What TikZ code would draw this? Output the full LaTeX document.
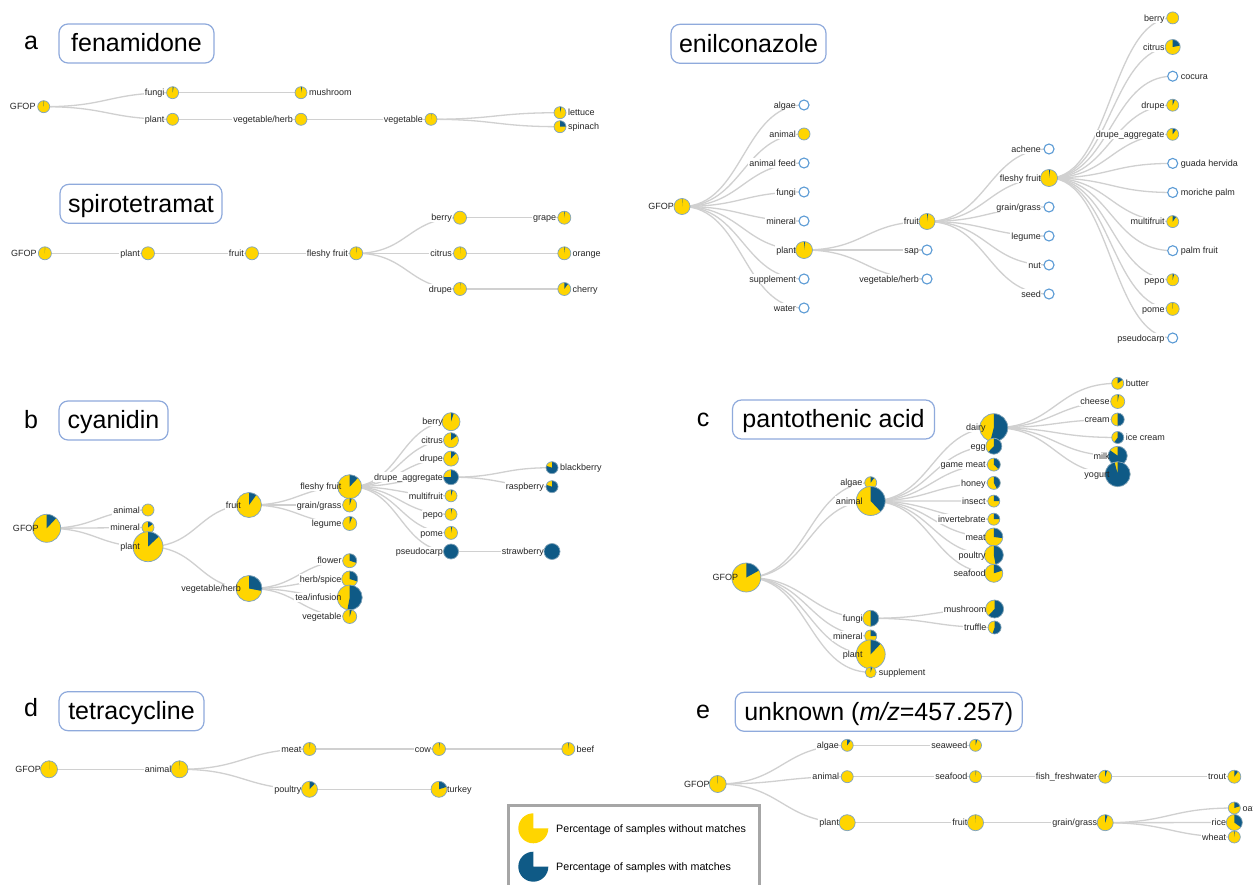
\documentclass[tikz,border=0pt]{standalone}
\usepackage{fontspec}
\setmainfont{Liberation Sans}
\usetikzlibrary{calc}
\pgfdeclarelayer{bg}\pgfdeclarelayer{mid}\pgfdeclarelayer{fg}
\pgfsetlayers{bg,mid,main,fg}
\definecolor{py}{HTML}{FFD500}
\definecolor{pb}{HTML}{0F5A86}
\definecolor{pout}{HTML}{7FA3C0}
\definecolor{eout}{HTML}{5B9BD5}
\definecolor{edgec}{HTML}{D0D0D0}
\definecolor{boxc}{HTML}{8FAADC}
\definecolor{legc}{HTML}{A6A6A6}
\tikzset{
 piest/.style={circle,inner sep=0pt,fill=py},
 pieout/.style={draw=pout,line width=0.7pt},
 epie/.style={circle,inner sep=0pt,minimum size=10pt,fill=white,draw=eout,line width=1.1pt},
 lbl/.style={font=\fontsize{9}{9}\selectfont,inner sep=0pt,text height=6.5pt,text depth=0pt,text=black!85},
 lblbg/.style={lbl,fill=white,inner xsep=0.5pt,inner ysep=1.5pt},
 lnkst/.style={draw=edgec,line width=1.3pt},
 titlebox/.style={draw=boxc,line width=1.2pt,rounded corners=9pt,inner sep=0pt,font=\fontsize{25}{25}\selectfont,text height=16.5pt,text depth=0pt,minimum height=39pt},
 panelletter/.style={font=\fontsize{25}{25}\selectfont,anchor=base,inner sep=0pt},
 legtext/.style={font=\fontsize{10.7}{10.7}\selectfont,anchor=west,inner sep=0pt,text height=7.7pt,text depth=0pt},
}
\newcommand\pielabel[3]{%
 \if#3l\def\lanc{east}\def\lsh{-8pt}\else\def\lanc{west}\def\lsh{8pt}\fi
 \begin{pgfonlayer}{mid}
 \node[lblbg,anchor=\lanc] (#1-bg) at ([xshift=\lsh]#1.center) {\phantom{#2}};
 \end{pgfonlayer}
 \begin{pgfonlayer}{fg}
 \node[lbl,anchor=\lanc] (#1-l) at ([xshift=\lsh]#1.center) {#2};
 \end{pgfonlayer}}
\newcommand\pienode[7]{%
 \node[piest,minimum size={2*#4pt}] (#1) at (#2,#3) {};
 \ifdim#5pt>0pt
  \fill[pb] (#1.center) -- ++(0pt,#4pt) arc[start angle=90,delta angle={-360*#5},radius=#4pt] -- cycle;
 \fi
 \draw[pieout] (#1.center) circle[radius=#4pt];
 \pielabel{#1}{#6}{#7}}
\newcommand\emptypie[5]{\node[epie] (#1) at (#2,#3) {};\pielabel{#1}{#4}{#5}}
\newcommand\lnk[2]{\draw[lnkst] let \p1=(#1.center),\p2=(#2.center) in (\p1) .. controls ({0.5*\x1+0.5*\x2},\y1) and ({0.5*\x1+0.5*\x2},\y2) .. (\p2);}
\begin{document}
\begin{tikzpicture}[x=1pt,y=-1pt]
\useasboundingbox (0,0) rectangle (1253,885);
\begin{pgfonlayer}{bg}\fill[white] (0,0) rectangle (1253,885);\end{pgfonlayer}
% ---------- titles ----------
\node[panelletter] (la) at (31,50) {a};
\node[titlebox,minimum width=155pt] (ta) at (136.5,43.5) {fenamidone};
\node[titlebox,minimum width=162pt] (ts) at (141,203.8) {spirotetramat};
\node[titlebox,minimum width=155pt] (tn) at (748.5,43.8) {enilconazole};
\node[panelletter] (lb) at (31,428) {b};
\node[titlebox,minimum width=109pt] (tb) at (113.5,420.5) {cyanidin};
\node[panelletter] (lc) at (703,426.7) {c};
\node[titlebox,minimum width=202pt] (tc) at (833.5,419.5) {pantothenic acid};
\node[panelletter] (ld) at (31,716.7) {d};
\node[titlebox,minimum width=145pt] (td) at (131.5,711.2) {tetracycline};
\node[panelletter] (le) at (703,718) {e};
\node[titlebox,minimum width=287pt] (te) at (878.7,711.8) {unknown (\textit{m/z}=457.257)};
% ---------- a fenamidone ----------
\pienode{a0}{43.7}{106.7}{6}{0.01}{GFOP}{l}
\pienode{a1}{172.6}{92.7}{6}{0.03}{fungi}{l}
\pienode{a2}{172.6}{119.3}{6}{0}{plant}{l}
\pienode{a3}{301}{92.7}{6}{0.03}{mushroom}{r}
\pienode{a4}{301}{119.3}{6}{0}{vegetable/herb}{l}
\pienode{a5}{431}{119.3}{6}{0.01}{vegetable}{l}
\pienode{a6}{560}{112.7}{6}{0.04}{lettuce}{r}
\pienode{a7}{560}{126.7}{6}{0.25}{spinach}{r}
% ---------- spirotetramat ----------
\pienode{s0}{44.9}{253.3}{6.5}{0.005}{GFOP}{l}
\pienode{s1}{148}{253.3}{6.5}{0}{plant}{l}
\pienode{s2}{252}{253.3}{6.5}{0}{fruit}{l}
\pienode{s3}{356.2}{253.3}{6.5}{0.005}{fleshy fruit}{l}
\pienode{s4}{460}{217.7}{6.5}{0}{berry}{l}
\pienode{s5}{460}{253.3}{6.5}{0.01}{citrus}{l}
\pienode{s6}{460}{289}{6.5}{0.01}{drupe}{l}
\pienode{s7}{564.3}{217.7}{6.5}{0.02}{grape}{l}
\pienode{s8}{564.3}{253.3}{6.5}{0.02}{orange}{r}
\pienode{s9}{564.3}{289}{6.5}{0.1}{cherry}{r}
% ---------- enilconazole ----------
\pienode{n0}{682}{206.5}{8}{0.01}{GFOP}{l}
\emptypie{n1}{804}{105}{algae}{l}
\pienode{n2}{804}{134}{6}{0}{animal}{l}
\emptypie{n3}{804}{163}{animal feed}{l}
\emptypie{n4}{804}{192}{fungi}{l}
\emptypie{n5}{804}{221}{mineral}{l}
\pienode{n6}{804}{250}{8.5}{0.02}{plant}{l}
\emptypie{n7}{804}{279}{supplement}{l}
\emptypie{n8}{804}{308}{water}{l}
\pienode{n9}{927}{221.5}{8}{0.02}{fruit}{l}
\emptypie{n10}{927}{250}{sap}{l}
\emptypie{n11}{927}{279}{vegetable/herb}{l}
\emptypie{n12}{1049}{149}{achene}{l}
\pienode{n13}{1049}{178}{8.5}{0.02}{fleshy fruit}{l}
\emptypie{n14}{1049}{207}{grain/grass}{l}
\emptypie{n15}{1049}{236}{legume}{l}
\emptypie{n16}{1049}{265}{nut}{l}
\emptypie{n17}{1049}{294}{seed}{l}
\pienode{n18}{1172.7}{17.9}{6}{0}{berry}{l}
\pienode{n19}{1172.7}{47}{7.5}{0.22}{citrus}{l}
\emptypie{n20}{1172.7}{76.2}{cocura}{r}
\pienode{n21}{1172.7}{105.2}{6}{0.06}{drupe}{l}
\pienode{n22}{1172.7}{134.3}{6}{0.1}{drupe\_aggregate}{l}
\emptypie{n23}{1172.7}{163.4}{guada hervida}{r}
\emptypie{n24}{1172.7}{192.5}{moriche palm}{r}
\pienode{n25}{1172.7}{221.6}{6}{0.1}{multifruit}{l}
\emptypie{n26}{1172.7}{250.7}{palm fruit}{r}
\pienode{n27}{1172.7}{279.8}{6}{0.04}{pepo}{l}
\pienode{n28}{1172.7}{308.9}{6.5}{0.01}{pome}{l}
\emptypie{n29}{1172.7}{338}{pseudocarp}{l}
% ---------- b cyanidin ----------
\pienode{b0}{46.7}{528.3}{14}{0.12}{GFOP}{l}
\pienode{b1}{148}{510}{6}{0}{animal}{l}
\pienode{b2}{148}{527.5}{6}{0.15}{mineral}{l}
\pienode{b3}{148}{546.7}{15}{0.13}{plant}{l}
\pienode{b4}{249}{505}{12.5}{0.1}{fruit}{l}
\pienode{b5}{249}{588.5}{13}{0.28}{vegetable/herb}{l}
\pienode{b6}{349.7}{486.7}{12}{0.12}{fleshy fruit}{l}
\pienode{b7}{349.7}{505}{7}{0.05}{grain/grass}{l}
\pienode{b8}{349.7}{523.5}{7}{0.06}{legume}{l}
\pienode{b9}{349.7}{560.7}{7}{0.3}{flower}{l}
\pienode{b10}{349.7}{579}{8}{0.3}{herb/spice}{l}
\pienode{b11}{349.7}{597.5}{12.5}{0.53}{tea/infusion}{l}
\pienode{b12}{349.7}{616.5}{7}{0.05}{vegetable}{l}
\pienode{b13}{451}{421.7}{9}{0.05}{berry}{l}
\pienode{b14}{451}{440.2}{7.5}{0.15}{citrus}{l}
\pienode{b15}{451}{458.6}{7.5}{0.12}{drupe}{l}
\pienode{b16}{451}{477.2}{7.5}{0.75}{drupe\_aggregate}{l}
\pienode{b17}{451}{495.8}{6}{0.05}{multifruit}{l}
\pienode{b18}{451}{514.3}{6}{0.03}{pepo}{l}
\pienode{b19}{451}{532.9}{6.5}{0.03}{pome}{l}
\pienode{b20}{451}{551.5}{7.5}{1}{pseudocarp}{l}
\pienode{b21}{552}{467.7}{6}{0.8}{blackberry}{r}
\pienode{b22}{552}{486.7}{6}{0.8}{raspberry}{l}
\pienode{b23}{552}{551.5}{8}{1}{strawberry}{l}
% ---------- c pantothenic acid ----------
\pienode{c0}{746.3}{577.5}{14.5}{0.17}{GFOP}{l}
\pienode{c1}{870.7}{482.7}{6}{0.1}{algae}{l}
\pienode{c2}{870.7}{501}{14.5}{0.38}{animal}{l}
\pienode{c3}{870.7}{618.3}{8}{0.5}{fungi}{l}
\pienode{c4}{870.7}{636}{6}{0.25}{mineral}{l}
\pienode{c5}{870.7}{654.3}{14.5}{0.12}{plant}{l}
\pienode{c6}{870.7}{672.3}{5.5}{0.05}{supplement}{r}
\pienode{c7}{993.8}{427.7}{14}{0.54}{dairy}{l}
\pienode{c8}{993.8}{446.2}{8}{0.62}{egg}{l}
\pienode{c9}{993.8}{464.6}{6.5}{0.37}{game meat}{l}
\pienode{c10}{993.8}{482.9}{6.5}{0.42}{honey}{l}
\pienode{c11}{993.8}{501.1}{6}{0.25}{insect}{l}
\pienode{c12}{993.8}{519.2}{6}{0.25}{invertebrate}{l}
\pienode{c13}{993.8}{537}{9}{0.27}{meat}{l}
\pienode{c14}{993.8}{555}{9.5}{0.47}{poultry}{l}
\pienode{c15}{993.8}{573.3}{9}{0.2}{seafood}{l}
\pienode{c16}{1117.7}{383.3}{6}{0.15}{butter}{r}
\pienode{c17}{1117.7}{401.5}{7}{0.03}{cheese}{l}
\pienode{c18}{1117.7}{419.5}{6.5}{0.5}{cream}{l}
\pienode{c19}{1117.7}{437.5}{6}{0.6}{ice cream}{r}
\pienode{c20}{1117.7}{455.8}{9.5}{0.85}{milk}{l}
\pienode{c21}{1117.7}{474.2}{12.5}{0.96}{yogurt}{l}
\pienode{c22}{994.6}{609}{9}{0.62}{mushroom}{l}
\pienode{c23}{994.6}{627.5}{6.5}{0.55}{truffle}{l}
% ---------- d tetracycline ----------
\pienode{d0}{49}{769.3}{8.5}{0.005}{GFOP}{l}
\pienode{d1}{179.5}{769.3}{8.5}{0.01}{animal}{l}
\pienode{d2}{309.5}{749}{6.5}{0.02}{meat}{l}
\pienode{d3}{309.5}{789.3}{8}{0.12}{poultry}{l}
\pienode{d4}{439}{749}{6.5}{0.02}{cow}{l}
\pienode{d5}{439}{789.3}{8}{0.2}{turkey}{r}
\pienode{d6}{568.3}{749}{6.5}{0.02}{beef}{r}
% ---------- e unknown ----------
\pienode{e0}{717.7}{784}{8.5}{0.005}{GFOP}{l}
\pienode{e1}{847.2}{745.3}{6}{0.1}{algae}{l}
\pienode{e2}{847.2}{776.7}{6}{0}{animal}{l}
\pienode{e3}{847.2}{822.7}{8}{0}{plant}{l}
\pienode{e4}{975.5}{745.3}{6}{0.05}{seaweed}{l}
\pienode{e5}{975.5}{776.7}{6}{0.02}{seafood}{l}
\pienode{e6}{975.5}{822.7}{8}{0.01}{fruit}{l}
\pienode{e7}{1105.2}{776.7}{6.5}{0.05}{fish\_freshwater}{l}
\pienode{e8}{1105.2}{822.7}{8}{0.05}{grain/grass}{l}
\pienode{e9}{1234.3}{776.7}{6.5}{0.1}{trout}{l}
\pienode{e10}{1234.3}{808}{6}{0.2}{oat}{r}
\pienode{e11}{1234.3}{822.5}{8}{0.35}{rice}{l}
\pienode{e12}{1234.3}{837}{6}{0.02}{wheat}{l}
% ---------- legend ----------
\draw[legc,line width=2.5pt] (508.3,900) |- (759.3,805.7) -- (759.3,900);
\fill[py] (533.3,828.3) -- ++(0pt,15pt) arc[start angle=90,end angle=360,radius=15pt] -- cycle;
\fill[pb] (533.3,866.7) -- ++(0pt,15pt) arc[start angle=90,end angle=360,radius=15pt] -- cycle;
\node[legtext] (lg1) at (556,828.3) {Percentage of samples without matches};
\node[legtext] (lg2) at (556,866.7) {Percentage of samples with matches};
% ---------- links ----------
\begin{pgfonlayer}{bg}
\lnk{a0}{a1}\lnk{a0}{a2}\lnk{a1}{a3}\lnk{a2}{a4}\lnk{a4}{a5}\lnk{a5}{a6}\lnk{a5}{a7}
\lnk{s0}{s1}\lnk{s1}{s2}\lnk{s2}{s3}\lnk{s3}{s4}\lnk{s3}{s5}\lnk{s3}{s6}\lnk{s4}{s7}\lnk{s5}{s8}\lnk{s6}{s9}
\foreach \k in {1,...,8}{\lnk{n0}{n\k}}
\lnk{n6}{n9}\lnk{n6}{n10}\lnk{n6}{n11}
\foreach \k in {12,...,17}{\lnk{n9}{n\k}}
\foreach \k in {18,...,29}{\lnk{n13}{n\k}}
\lnk{b0}{b1}\lnk{b0}{b2}\lnk{b0}{b3}\lnk{b3}{b4}\lnk{b3}{b5}
\lnk{b4}{b6}\lnk{b4}{b7}\lnk{b4}{b8}
\foreach \k in {9,...,12}{\lnk{b5}{b\k}}
\foreach \k in {13,...,20}{\lnk{b6}{b\k}}
\lnk{b16}{b21}\lnk{b16}{b22}\lnk{b20}{b23}
\foreach \k in {1,...,6}{\lnk{c0}{c\k}}
\foreach \k in {7,...,15}{\lnk{c2}{c\k}}
\foreach \k in {16,...,21}{\lnk{c7}{c\k}}
\lnk{c3}{c22}\lnk{c3}{c23}
\lnk{d0}{d1}\lnk{d1}{d2}\lnk{d1}{d3}\lnk{d2}{d4}\lnk{d3}{d5}\lnk{d4}{d6}
\lnk{e0}{e1}\lnk{e0}{e2}\lnk{e0}{e3}\lnk{e1}{e4}\lnk{e2}{e5}\lnk{e5}{e7}\lnk{e7}{e9}
\lnk{e3}{e6}\lnk{e6}{e8}\lnk{e8}{e10}\lnk{e8}{e11}\lnk{e8}{e12}
\end{pgfonlayer}
\end{tikzpicture}
\end{document}
